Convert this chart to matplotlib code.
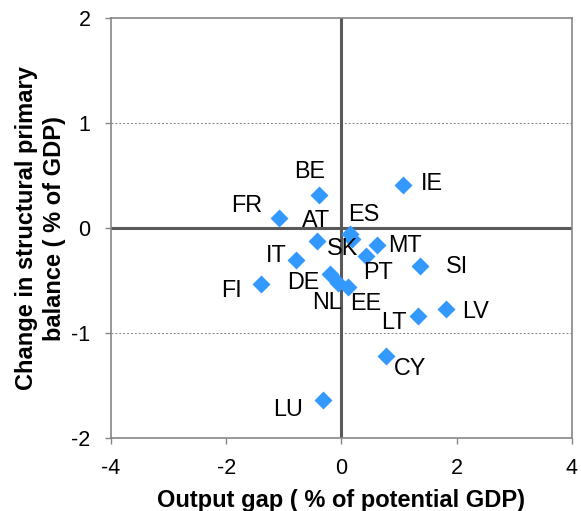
import matplotlib
matplotlib.use("Agg")
import matplotlib.pyplot as plt

plt.rcParams['font.family'] = ['Liberation Sans', 'DejaVu Sans']
plt.rcParams['axes.unicode_minus'] = False

# country codes, output gap (x) and change in structural primary balance (y)
countries = ['BE', 'IE', 'FR', 'AT', 'ES', 'SK', 'MT', 'PT', 'IT', 'SI',
             'DE', 'FI', 'NL', 'EE', 'LV', 'LT', 'CY', 'LU']
output_gap = [-0.38, 1.07, -1.08, -0.43, 0.15, 0.18, 0.62, 0.43, -0.79, 1.36,
              -0.20, -1.40, -0.06, 0.11, 1.81, 1.33, 0.78, -0.32]
spb_change = [0.32, 0.41, 0.10, -0.12, -0.06, -0.10, -0.16, -0.27, -0.30, -0.36,
              -0.44, -0.53, -0.52, -0.56, -0.77, -0.84, -1.22, -1.64]

# label offsets (pixels) relative to each marker
lab_dx = [-10, 29, -32, -1, 14, -9, 28, 12, -20, 37, -27, -29, -11, 18, 30, -24, 24, -35]
lab_dy = [23, 2, 12, 20, 20, -10, -1, -16, 4, -1, -8, -7, -20, -17, -3, -6, -12, -9]

fig = plt.figure(figsize=(5.81, 5.11), dpi=100)
ax = fig.add_axes([0.191, 0.143, 0.793, 0.821])

ax.axhline(0, color='#595959', lw=2.2, zorder=1)
ax.axvline(0, color='#595959', lw=2.2, zorder=1)
for yv in (-1, 1):
    ax.axhline(yv, color='#808080', lw=0.7, ls=(0, (2, 2)), zorder=0)

ax.plot(output_gap, spb_change, 'D', color='#3399ff', ms=9.5, mec='none', zorder=3)

for name, x, y, dx, dy in zip(countries, output_gap, spb_change, lab_dx, lab_dy):
    ax.annotate(name, (x, y), xytext=(dx, dy), textcoords='offset pixels',
                ha='center', va='center', fontsize=16.8, zorder=4)

ax.set_xlim(-4, 4)
ax.set_ylim(-2, 2)
ax.set_xticks([-4, -2, 0, 2, 4])
ax.set_yticks([-2, -1, 0, 1, 2])
ax.tick_params(labelsize=15.5, color='#868686', length=4.3, width=1, pad=10.5)
for s in ax.spines.values():
    s.set_color('#868686')
    s.set_linewidth(1.2)

ax.set_xlabel('Output gap ( % of potential GDP)', fontsize=17, fontweight='bold', labelpad=7)
ax.set_ylabel('Change in structural primary\nbalance ( % of GDP)', fontsize=17,
              fontweight='bold', labelpad=4, linespacing=1.25)

fig.savefig('out.png', dpi=100)
